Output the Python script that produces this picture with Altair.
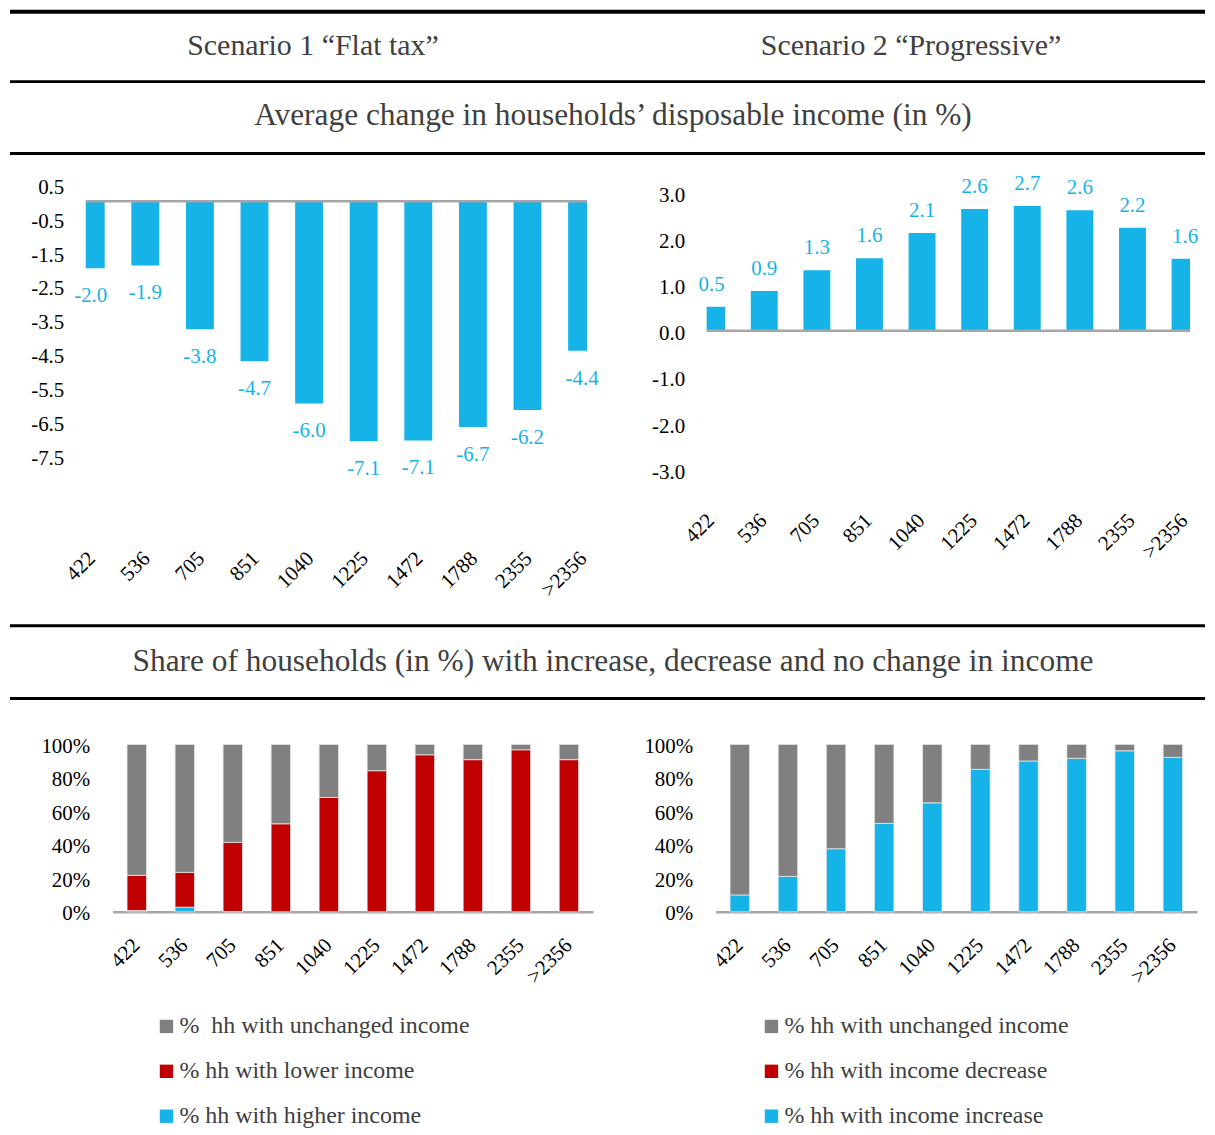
import json
import pandas as pd
import altair as alt

FONT = "Liberation Serif"
BLUE = "#16B3E8"
RED = "#C00000"
GRAY = "#808080"
AXIS_GRAY = "#A6A6A6"
TEXT_DARK = "#404040"

# ---------------- data ----------------
cats = ["422", "536", "705", "851", "1040", "1225", "1472", "1788", "2355", ">2356"]

scenario_titles = ["Scenario 1 \u201cFlat tax\u201d", "Scenario 2 \u201cProgressive\u201d"]
title_avg = "Average change in households\u2019 disposable income (in %)"
title_share = "Share of households (in %) with increase, decrease and no change in income"

# average change in disposable income (%)
flat_change = [-1.98, -1.90, -3.78, -4.72, -5.97, -7.08, -7.06, -6.66, -6.16, -4.41]
prog_change = [0.52, 0.86, 1.31, 1.57, 2.12, 2.64, 2.70, 2.61, 2.23, 1.56]

# share of households (%)
flat_unchanged = [78.2, 76.4, 58.5, 47.4, 31.7, 15.7, 6.2, 9.1, 3.2, 9.1]
flat_lower = [21.0, 20.8, 41.3, 52.6, 68.3, 84.3, 93.8, 90.9, 96.8, 90.9]
flat_higher = [0.8, 2.8, 0.2, 0.0, 0.0, 0.0, 0.0, 0.0, 0.0, 0.0]

prog_unchanged = [89.9, 78.8, 62.3, 47.2, 34.9, 14.9, 9.9, 8.3, 3.8, 7.7]
prog_decrease = [0.0, 0.0, 0.0, 0.0, 0.0, 0.0, 0.0, 0.0, 0.0, 0.0]
prog_increase = [10.1, 21.2, 37.7, 52.8, 65.1, 85.1, 90.1, 91.7, 96.2, 92.3]

legend_flat = ["%\u00a0 hh with unchanged income", "% hh with lower income", "% hh with higher income"]
legend_prog = ["% hh with unchanged income", "% hh with income decrease", "% hh with income increase"]

ticks_flat = [0.5, -0.5, -1.5, -2.5, -3.5, -4.5, -5.5, -6.5, -7.5]
ticks_prog = [3.0, 2.0, 1.0, 0.0, -1.0, -2.0, -3.0]
ticks_share = [0, 20, 40, 60, 80, 100]

MINUS_EXPR = "replace(format(datum.value, '.1f'), '\u2212', '-')"


# ---------------- helpers ----------------
def spacer(w, h):
    return alt.Chart(pd.DataFrame({"z": [0]})).mark_point(opacity=0, size=1).encode(
        x=alt.value(0), y=alt.value(0)
    ).properties(width=w, height=h)


def text_layer(text, x, y, size, color=TEXT_DARK):
    return alt.Chart(pd.DataFrame({"t": [text]})).mark_text(
        font=FONT, fontSize=size, color=color, align="center", baseline="middle"
    ).encode(text="t:N", x=alt.value(x), y=alt.value(y))


def hrule(y, w, x0, x1):
    return alt.Chart(pd.DataFrame({"k": [0]})).mark_rule(color="black", strokeWidth=w).encode(
        x=alt.value(x0), x2=alt.value(x1), y=alt.value(y)
    )


def change_panel(vals, ymin, ymax, ticks, width, height, bar_size, dy, x_offset, label_offset):
    df = pd.DataFrame({"i": list(range(len(cats))), "v": vals,
                       "lab": [f"{v:.1f}" for v in vals]})
    x = alt.X(
        "i:Q", title=None,
        scale=alt.Scale(domain=[0, len(cats) - 1], nice=False, zero=False),
        axis=alt.Axis(values=list(range(len(cats))), labelExpr=json.dumps(cats) + "[datum.value]",
                      labelAngle=-45, labelAlign="right", labelBaseline="middle",
                      labelFlush=False, labelOverlap=False, domain=False, ticks=False, grid=False,
                      offset=x_offset, labelPadding=6, labelOffset=label_offset,
                      labelFont=FONT, labelFontSize=21, labelColor="black"),
    )
    y = alt.Y(
        "v:Q", title=None,
        scale=alt.Scale(domain=[ymin, ymax], nice=False, zero=False),
        axis=alt.Axis(values=ticks, labelExpr=MINUS_EXPR, domain=False, ticks=False, grid=False,
                      labelPadding=22, labelFlush=False, labelOverlap=False, labelOffset=3,
                      labelSeparation=0, labelFont=FONT, labelFontSize=21, labelColor="black"),
    )
    base = alt.Chart(df).encode(x=x, y=y)
    bars = base.mark_bar(color=BLUE, size=bar_size, clip=True, orient="vertical")
    labels = base.mark_text(color=BLUE, font=FONT, fontSize=21, dy=dy, baseline="middle").encode(text="lab:N")
    zero = alt.Chart(pd.DataFrame({"v": [0.0]})).mark_rule(color=AXIS_GRAY, strokeWidth=2.5).encode(y=y)
    return alt.layer(bars, zero, labels).properties(width=width, height=height)


def share_panel(unch, dec, inc, labels, legend_x, cell_w, plot_x0, plot_w):
    rows = []
    for k, c in enumerate(cats):
        rows.append({"cat": c, "grp": labels[2], "val": inc[k], "ord": 0})
        rows.append({"cat": c, "grp": labels[1], "val": dec[k], "ord": 1})
        rows.append({"cat": c, "grp": labels[0], "val": unch[k], "ord": 2})
    df = pd.DataFrame(rows)
    bars = alt.Chart(df).transform_filter("datum.val > 0").mark_bar(
        stroke="#E6E6E6", strokeWidth=0.8
    ).encode(
        x=alt.X("cat:N", sort=cats, title=None,
                scale=alt.Scale(range=[plot_x0, plot_x0 + plot_w], paddingInner=0.595, paddingOuter=0.3),
                axis=alt.Axis(labelAngle=-45, labelAlign="right", labelBaseline="middle",
                              labelOverlap=False, domain=True, domainColor=AXIS_GRAY, domainWidth=2.5,
                              ticks=False, grid=False, offset=0, labelPadding=30,
                              labelFont=FONT, labelFontSize=21, labelColor="black")),
        y=alt.Y("val:Q", stack="zero", title=None, scale=alt.Scale(domain=[0, 100], nice=False),
                axis=alt.Axis(values=ticks_share, labelExpr="datum.value + '%'", domain=False,
                              ticks=False, grid=False, offset=-plot_x0, labelPadding=23,
                              labelFlush=False, labelOverlap=False, labelOffset=2,
                              labelFont=FONT, labelFontSize=21, labelColor="black")),
        color=alt.Color("grp:N", scale=alt.Scale(domain=labels, range=[GRAY, RED, BLUE]),
                        legend=alt.Legend(orient="none", legendX=legend_x, legendY=271, title=None,
                                          symbolType="square", symbolSize=180, symbolStrokeWidth=0,
                                          labelFont=FONT, labelFontSize=24, labelColor=TEXT_DARK,
                                          labelLimit=600, rowPadding=21, labelOffset=1, padding=0)),
        order=alt.Order("ord:Q", sort="ascending"),
    )
    return bars.properties(width=cell_w, height=168)


# ---------------- build (5-column grid) ----------------
COLS = [76, 509, 114, 492, 8]          # column widths, sum = 1199
FULL_W = sum(COLS)
H_HDR, H_TOP, H_SEC, H_BOT = 174, 286, 276, 168

header = alt.layer(
    hrule(1, 4, 0, FULL_W), hrule(71, 3, 0, FULL_W), hrule(143, 3, 0, FULL_W),
    text_layer(scenario_titles[0], 304, 35, 30),
    text_layer(scenario_titles[1], 904, 35, 30),
    text_layer(title_avg, 605, 106, 31.5),
).properties(width=COLS[0], height=H_HDR)

sec2 = alt.layer(
    hrule(157, 3, 0, FULL_W), hrule(230, 3, 0, FULL_W),
    text_layer(title_share, 605, 193, 31.5),
).properties(width=COLS[0], height=H_SEC)

tl = change_panel(flat_change, -7.5 - 14 / 34.0, 0.5, ticks_flat, 503, H_TOP, 28, 28, 80, 1)
tr = change_panel(prog_change, -3.0, 3.0 + 8 / 46.3, ticks_prog, 485, H_TOP, 27, -22, 42, -1)

bl = share_panel(flat_unchanged, flat_lower, flat_higher, legend_flat, 69, COLS[1], 27, 482)
br = share_panel(prog_unchanged, prog_decrease, prog_increase, legend_prog, 53, COLS[3], 9, 483)

cells = [
    header, spacer(COLS[1], H_HDR), spacer(COLS[2], H_HDR), spacer(COLS[3], H_HDR), spacer(COLS[4], H_HDR),
    spacer(COLS[0], H_TOP), tl, spacer(COLS[2], H_TOP), tr, spacer(COLS[4], H_TOP),
    sec2, spacer(COLS[1], H_SEC), spacer(COLS[2], H_SEC), spacer(COLS[3], H_SEC), spacer(COLS[4], H_SEC),
    spacer(COLS[0], H_BOT), bl, spacer(COLS[2], H_BOT), br, spacer(COLS[4], H_BOT),
]

chart = alt.concat(
    *cells, columns=5, spacing=0, bounds="flush", align="each"
).resolve_scale(color="independent").properties(padding=0).configure(
    font=FONT, view=alt.ViewConfig(stroke=None)
)

chart.save("out.html", embed_options={"renderer": "svg", "actions": False})
